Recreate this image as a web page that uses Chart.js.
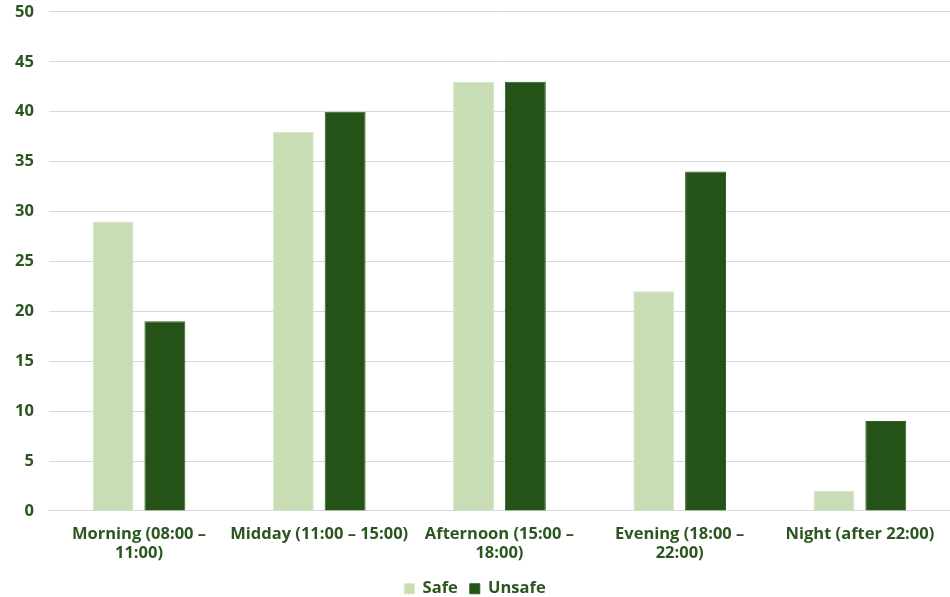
<!DOCTYPE html>
<html>
<head>
<meta charset="utf-8">
<script src="https://cdn.jsdelivr.net/npm/chart.js@4"></script>
<style>
  html, body { margin: 0; padding: 0; background: #fff; overflow: hidden; }
  #wrap { position: absolute; left: 0; top: -13px; width: 950px; height: 629px; }
</style>
</head>
<body>
<div id="wrap"><canvas id="barChart"></canvas></div>
<script>
const categories = [
	["Morning (08:00 –", "11:00)"],
	"Midday (11:00 – 15:00)",
	["Afternoon (15:00 –", "18:00)"],
	["Evening (18:00 –", "22:00)"],
	"Night (after 22:00)"
];
const safeValues = [29, 38, 43, 22, 2];
const unsafeValues = [19, 40, 43, 34, 9];
const yTicks = [0, 5, 10, 15, 20, 25, 30, 35, 40, 45, 50];

const TEXT = "#2b561f";
const FONT = { family: "'Open Sans', Inter, sans-serif", size: 16.5, weight: "bold" };

Chart.defaults.font.family = FONT.family;
Chart.defaults.color = TEXT;

const CHART = document.getElementById("barChart");

let barChart = new Chart(CHART, {
	type: 'bar',
	data: {
		labels: categories,
		datasets: [
			{
				label: "Safe",
				backgroundColor: "#c8ddb3",
				borderColor: "#d6e6c6",
				borderWidth: 1,
				data: safeValues,
			},
			{
				label: "Unsafe",
				backgroundColor: "#245217",
				borderColor: "#2d5e20",
				borderWidth: 1,
				data: unsafeValues,
			}
		]
	},
	options: {
		responsive: true,
		maintainAspectRatio: false,
		animation: false,
		categoryPercentage: 0.575,
		barPercentage: 0.79,
		layout: { padding: { top: 1, right: 0, left: 0, bottom: 9 } },
		plugins: {
			legend: {
				display: true,
				position: 'bottom',
				labels: {
					boxWidth: 10,
					boxHeight: 10,
					padding: 12,
					font: FONT,
					color: TEXT
				}
			},
			tooltip: { enabled: false }
		},
		scales: {
			x: {
				grid: { display: false },
				border: { color: "#d9d9d9", width: 1 },
				ticks: { font: FONT, color: TEXT, maxRotation: 0, autoSkip: false, padding: 5 }
			},
			y: {
				min: 0,
				max: 50,
				afterBuildTicks: function(axis) {
					axis.ticks = yTicks.map(v => ({ value: v }));
				},
				grid: { color: "#d9d9d9", drawTicks: false },
				border: { display: false },
				ticks: { font: FONT, color: TEXT, padding: 15 }
			}
		}
	}
});
</script>
</body>
</html>
